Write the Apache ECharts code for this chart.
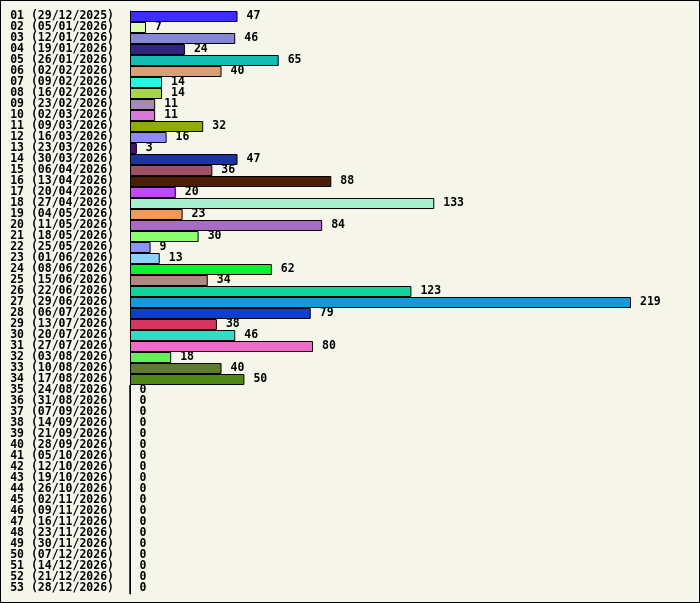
<!DOCTYPE html>
<html>
<head>
<meta charset="utf-8">
<script src="https://cdn.jsdelivr.net/npm/echarts@6/dist/echarts.min.js"></script>
<style>
  html, body { margin: 0; padding: 0; }
  #chart { width: 700px; height: 603px; box-sizing: border-box; border: 1px solid #000; background: #f5f5ea; }
</style>
</head>
<body>
<div id="chart"></div>
<script>
// week labels, top to bottom
const weeks = [
  '01 (29/12/2025)', '02 (05/01/2026)', '03 (12/01/2026)', '04 (19/01/2026)',
  '05 (26/01/2026)', '06 (02/02/2026)', '07 (09/02/2026)', '08 (16/02/2026)',
  '09 (23/02/2026)', '10 (02/03/2026)', '11 (09/03/2026)', '12 (16/03/2026)',
  '13 (23/03/2026)', '14 (30/03/2026)', '15 (06/04/2026)', '16 (13/04/2026)',
  '17 (20/04/2026)', '18 (27/04/2026)', '19 (04/05/2026)', '20 (11/05/2026)',
  '21 (18/05/2026)', '22 (25/05/2026)', '23 (01/06/2026)', '24 (08/06/2026)',
  '25 (15/06/2026)', '26 (22/06/2026)', '27 (29/06/2026)', '28 (06/07/2026)',
  '29 (13/07/2026)', '30 (20/07/2026)', '31 (27/07/2026)', '32 (03/08/2026)',
  '33 (10/08/2026)', '34 (17/08/2026)', '35 (24/08/2026)', '36 (31/08/2026)',
  '37 (07/09/2026)', '38 (14/09/2026)', '39 (21/09/2026)', '40 (28/09/2026)',
  '41 (05/10/2026)', '42 (12/10/2026)', '43 (19/10/2026)', '44 (26/10/2026)',
  '45 (02/11/2026)', '46 (09/11/2026)', '47 (16/11/2026)', '48 (23/11/2026)',
  '49 (30/11/2026)', '50 (07/12/2026)', '51 (14/12/2026)', '52 (21/12/2026)',
  '53 (28/12/2026)'
];

const counts = [
  47, 7, 46, 24, 65, 40, 14, 14, 11, 11, 32, 16, 3, 47, 36, 88, 20, 133,
  23, 84, 30, 9, 13, 62, 34, 123, 219, 79, 38, 46, 80, 18, 40, 50,
  0, 0, 0, 0, 0, 0, 0, 0, 0, 0, 0, 0, 0, 0, 0, 0, 0, 0, 0
];

const barColors = [
  '#3b2eff', '#d8fcb0', '#8486d6', '#30267e', '#14bcb4', '#d4a074', '#24f8e0',
  '#a8d44c', '#a888b8', '#d878d8', '#90ac00', '#9088ff', '#4c0c7c', '#1c34a0',
  '#9c5064', '#4c1e04', '#c448f8', '#a8f0d0', '#f49858', '#a86cc4', '#8cfc70',
  '#8c94f8', '#88d4fc', '#0cf030', '#b08880', '#10d498', '#109cdc', '#0c40c8',
  '#d83460', '#2ce0c8', '#f06cc8', '#64f058', '#5c7c30', '#508818'
];

const font = '"DejaVu Sans Mono", "Liberation Mono", monospace';

const chart = echarts.init(document.getElementById('chart'));

chart.setOption({
  animation: false,
  grid: { left: 129, top: 10, right: 68, bottom: 8 },
  xAxis: {
    type: 'value',
    min: 0,
    max: 219,
    show: false,
    splitLine: { show: false }
  },
  yAxis: {
    type: 'category',
    data: weeks,
    inverse: true,
    axisLine: { show: true, lineStyle: { color: '#000', width: 1 } },
    axisTick: { show: false },
    axisLabel: {
      interval: 0,
      margin: 16,
      color: '#000',
      fontFamily: font,
      fontWeight: 'bold',
      fontSize: 11.5
    }
  },
  series: [{
    type: 'bar',
    data: counts,
    barWidth: '100%',
    itemStyle: {
      borderColor: '#000',
      borderWidth: 1,
      color: (p) => barColors[p.dataIndex] || '#888'
    },
    label: {
      show: true,
      position: 'right',
      distance: 9,
      color: '#000',
      fontFamily: font,
      fontWeight: 'bold',
      fontSize: 11.5
    }
  }]
});
</script>
</body>
</html>
